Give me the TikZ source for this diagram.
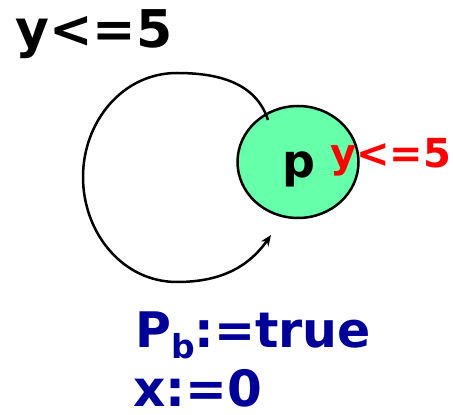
\documentclass[tikz,border=0pt]{standalone}
\usepackage{fontspec}
\setmainfont{DejaVu Sans}
\usetikzlibrary{arrows.meta,shapes.geometric}
\definecolor{stategreen}{RGB}{102,255,170}
\definecolor{assignblue}{RGB}{0,0,153}

\begin{document}
\begin{tikzpicture}[
    x=1pt, y=1pt,
    state/.style={draw=black, line width=2.5pt, ellipse, fill=stategreen,
                  minimum width=121pt, minimum height=112pt, inner sep=0pt},
    lbl/.style={anchor=base west, inner sep=0pt, font=\bfseries\fontsize{52}{52}\selectfont},
    loop/.style={-{Stealth[length=11pt,width=9pt]}, line width=2.5pt}
]
\useasboundingbox (0,0) rectangle (453,415);

% Zustand
\node[state] (p) at (298,253) {};
\node[anchor=base, inner sep=0pt, font=\bfseries\fontsize{46}{46}\selectfont] (pname) at (299,237) {p};

% Guard und Invariante
\node[lbl] (guard) at (15,367) {y<=5};
\node[lbl, red, font=\bfseries\fontsize{40}{40}\selectfont] (inv) at (330,247) {y<=5};

% Reset
\node[lbl, assignblue, font=\bfseries\fontsize{49}{49}\selectfont] (reset1) at (135,67)
  {P{\fontsize{33}{33}\selectfont\raisebox{-11pt}{b}}:=true};
\node[lbl, assignblue, font=\bfseries\fontsize{50}{50}\selectfont] (reset2) at (133,8) {x:=0};

% Schleife
\coordinate (loopstart) at (268,295);
\coordinate (loopend) at (271,180);
\draw[loop] (loopstart) to[out=108,in=0] (177,342) to[out=180,in=90] (83,238)
  to[out=-90,in=180] (177,133) to[out=0,in=235] (loopend);

\end{tikzpicture}
\end{document}
